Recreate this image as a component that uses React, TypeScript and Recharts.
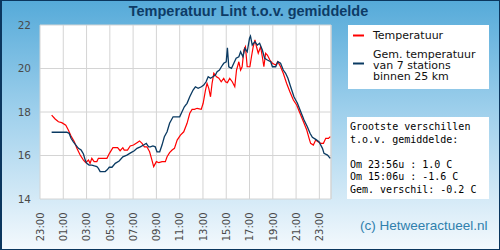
import React from 'react';
import { LineChart, Line, XAxis, YAxis, CartesianGrid, ReferenceLine } from 'recharts';

// Time axis in minutes after midnight; the axis starts at 23:00 the evening before.
const hourTicks = [-60, 60, 180, 300, 420, 540, 660, 780, 900, 1020, 1140, 1260, 1380];
const hourLabels = ['23:00', '01:00', '03:00', '05:00', '07:00', '09:00', '11:00', '13:00', '15:00', '17:00', '19:00', '21:00', '23:00'];
const tempTicks = [14, 16, 18, 20, 22];

// Temperatuur Lint
const lintMinutes = [
  0, 18, 35, 52, 73, 86, 100, 117, 130, 147, 164, 176, 190, 198, 207, 219, 233, 241, 285, 298,
  316, 340, 353, 367, 374, 391, 405, 422, 440, 453, 466, 478, 491, 505, 517, 526, 540, 553, 569, 586,
  595, 608, 621, 633, 647, 664, 681, 698, 712, 724, 736, 750, 771, 781, 793, 801, 810, 819, 827, 836,
  850, 862, 874, 887, 896, 906, 918, 931, 944, 953, 965, 974, 982, 991, 999, 1008, 1022, 1030, 1039, 1048,
  1056, 1065, 1077, 1086, 1094, 1103, 1112, 1125, 1138, 1155, 1166, 1180, 1194, 1211, 1228, 1246, 1263, 1280, 1298, 1315,
  1327, 1335, 1349, 1361, 1373, 1387, 1401, 1413, 1427, 1436,
];
const lintTemps = [
  17.86, 17.68, 17.55, 17.51, 17.39, 17.17, 16.9, 16.63, 16.33, 16.02, 15.79, 15.67, 15.79, 15.64, 15.87, 15.72, 15.72, 15.87, 15.87, 16.1,
  16.36, 16.36, 16.22, 16.36, 16.25, 16.25, 16.44, 16.48, 16.59, 16.67, 16.56, 16.4, 16.4, 16.17, 15.79, 15.49, 15.72, 15.67, 15.72, 15.72,
  15.94, 16.13, 16.25, 16.33, 16.71, 16.94, 17.09, 17.48, 17.94, 18.12, 18.12, 18.17, 18.12, 18.4, 19.01, 19.32, 19.09, 18.7, 19.32, 19.78,
  19.62, 19.55, 19.39, 19.55, 19.39, 19.35, 19.55, 19.39, 19.16, 19.93, 20.31, 19.93, 20.08, 20.85, 21.0, 20.08, 20.08, 20.54, 21.0, 21.31,
  21.0, 20.7, 21.0, 20.54, 20.08, 20.7, 20.62, 20.39, 20.24, 20.16, 20.31, 20.08, 19.78, 19.32, 18.93, 18.55, 18.32, 17.94, 17.55, 17.17,
  16.79, 16.56, 16.48, 16.71, 16.63, 16.56, 16.56, 16.79, 16.79, 16.87,
];

// Gemiddelde van 7 stations binnen 25 km
const avgMinutes = [
  0, 78, 90, 100, 112, 125, 138, 152, 164, 173, 181, 193, 207, 221, 233, 241, 250, 276, 285, 297,
  311, 328, 348, 367, 388, 409, 426, 440, 457, 474, 488, 500, 509, 522, 534, 543, 557, 569, 581, 595,
  608, 626, 660, 672, 684, 698, 712, 729, 741, 755, 772, 784, 796, 807, 819, 831, 844, 853, 865, 875,
  887, 900, 906, 913, 927, 939, 951, 965, 974, 986, 996, 1008, 1020, 1025, 1034, 1048, 1060, 1072, 1086, 1098,
  1112, 1129, 1138, 1155, 1166, 1180, 1194, 1206, 1218, 1232, 1249, 1267, 1284, 1301, 1318, 1332, 1344, 1361, 1378, 1396,
  1404, 1422, 1436,
];
const avgTemps = [
  17.07, 17.07, 17.02, 16.79, 16.63, 16.48, 16.33, 16.25, 16.07, 15.79, 15.64, 15.56, 15.56, 15.52, 15.49, 15.41, 15.26, 15.26, 15.33, 15.46,
  15.46, 15.64, 15.75, 15.94, 16.02, 16.13, 16.22, 16.33, 16.4, 16.48, 16.56, 16.4, 16.4, 16.44, 16.4, 16.17, 16.17, 16.48, 16.86, 17.09,
  17.48, 17.78, 17.78, 18.01, 18.24, 18.4, 18.7, 19.01, 19.16, 19.09, 19.16, 19.24, 19.39, 19.62, 19.55, 19.62, 19.7, 19.85, 19.93, 20.08,
  20.24, 20.31, 20.95, 20.08, 20.01, 20.24, 20.47, 20.54, 20.77, 20.54, 20.93, 20.77, 21.39, 21.49, 21.08, 21.23, 21.08, 21.16, 20.85, 20.47,
  20.39, 20.31, 20.08, 20.08, 20.31, 20.24, 19.93, 19.78, 19.55, 19.16, 18.7, 18.4, 18.01, 17.63, 17.32, 17.02, 16.84, 16.74, 16.63, 16.33,
  16.1, 16.02, 15.87,
];

const statsLines = [
  'Grootste verschillen',
  't.o.v. gemiddelde:',
  '',
  'Om 23:56u : 1.0 C',
  'Om 15:06u : -1.6 C',
  'Gem. verschil: -0.2 C',
];

const lintData = lintMinutes.map((t, i) => ({ t, v: lintTemps[i] }));
const avgData = avgMinutes.map((t, i) => ({ t, v: avgTemps[i] }));

const W = 500;
const H = 250;
const PLOT_TOP = 25;
const PLOT_LEFT = 40;
const PLOT_RIGHT = 331;
const PLOT_BOTTOM = 199;

const LINT_COLOR = '#ff0000';
const AVG_COLOR = '#0a3a62';
const AXIS_TEXT = '#4a4a4a';

const XTick = (props: any) => {
  const { x, payload } = props;
  const idx = hourTicks.indexOf(payload.value);
  const label = idx >= 0 ? hourLabels[idx] : '';
  return (
    <text
      transform={`translate(${x + 3.8},${PLOT_BOTTOM + 13.5}) rotate(-90)`}
      textAnchor="end"
      fontFamily="DejaVu Sans"
      fontSize={10}
      fill={AXIS_TEXT}
    >
      {label}
    </text>
  );
};

const YTick = (props: any) => {
  const { y, payload } = props;
  return (
    <text x={31} y={y + 3.8} textAnchor="end" fontFamily="DejaVu Sans" fontSize={10.5} fill={AXIS_TEXT}>
      {payload.value}
    </text>
  );
};

export default function App() {
  return (
    <div
      style={{
        position: 'absolute',
        left: 0,
        top: 0,
        width: W,
        height: H,
        background: 'linear-gradient(to bottom, #55aad9 0%, #9fd0ec 45%, #f4f9fd 100%)',
        overflow: 'hidden',
      }}
    >
      <LineChart
        width={W}
        height={H}
        margin={{ top: PLOT_TOP, right: W - PLOT_RIGHT, bottom: 0, left: 0 }}
      >
        <CartesianGrid stroke="#d4d4d4" fill="#ffffff" fillOpacity={1} />
        <XAxis
          type="number"
          dataKey="t"
          domain={[-60, 1440]}
          ticks={hourTicks}
          interval={0}
          allowDataOverflow
          height={H - PLOT_BOTTOM}
          axisLine={false}
          tickLine={false}
          tick={<XTick />}
        />
        <YAxis
          type="number"
          domain={[14, 22]}
          ticks={tempTicks}
          interval={0}
          width={PLOT_LEFT}
          axisLine={false}
          tickLine={false}
          tick={<YTick />}
        />
        <ReferenceLine x={1440} stroke="#d4d4d4" />
        <Line
          data={lintData}
          dataKey="v"
          type="linear"
          stroke={LINT_COLOR}
          strokeWidth={1.2}
          dot={false}
          isAnimationActive={false}
        />
        <Line
          data={avgData}
          dataKey="v"
          type="linear"
          stroke={AVG_COLOR}
          strokeWidth={1.3}
          dot={false}
          isAnimationActive={false}
        />
      </LineChart>

      <svg
        width={W}
        height={H}
        style={{ position: 'absolute', left: 0, top: 0, pointerEvents: 'none' }}
      >
        <text
          x={248.5}
          y={15.5}
          textAnchor="middle"
          fontFamily="Liberation Sans"
          fontWeight="bold"
          fontSize={14.5}
          fill="#0d3b66"
        >
          Temperatuur Lint t.o.v. gemiddelde
        </text>

        {/* legend */}
        <rect x={348} y={25} width={141} height={64} fill="#ffffff" />
        <line x1={353} x2={364} y1={35.5} y2={35.5} stroke={LINT_COLOR} strokeWidth={2} />
        <text x={373} y={39} fontFamily="DejaVu Sans" fontSize={11} fill="#111">Temperatuur</text>
        <line x1={353} x2={364} y1={63.5} y2={63.5} stroke={AVG_COLOR} strokeWidth={2} />
        <text fontFamily="DejaVu Sans" fontSize={11} fill="#111">
          <tspan x={373} y={57.5}>Gem. temperatuur</tspan>
          <tspan x={373} y={68.5}>van 7 stations</tspan>
          <tspan x={373} y={79.5}>binnen 25 km</tspan>
        </text>

        {/* stats */}
        <rect x={347} y={117} width={142} height={82} fill="#ffffff" />
        <text fontFamily="DejaVu Sans Mono" fontSize={10} fill="#000">
          {statsLines.map((line, i) =>
            line ? (
              <tspan key={i} x={350} y={130 + i * 12.5}>{line}</tspan>
            ) : null,
          )}
        </text>

        <text x={360} y={230} fontFamily="Liberation Sans" fontSize={13.5} fill="#2f80ad">
          (c) Hetweeractueel.nl
        </text>
      </svg>

      <div
        style={{
          position: 'absolute',
          left: 0,
          top: 0,
          width: W,
          height: H,
          boxSizing: 'border-box',
          border: '1px solid #0b365e',
          borderLeftWidth: 2,
          pointerEvents: 'none',
        }}
      />
    </div>
  );
}
